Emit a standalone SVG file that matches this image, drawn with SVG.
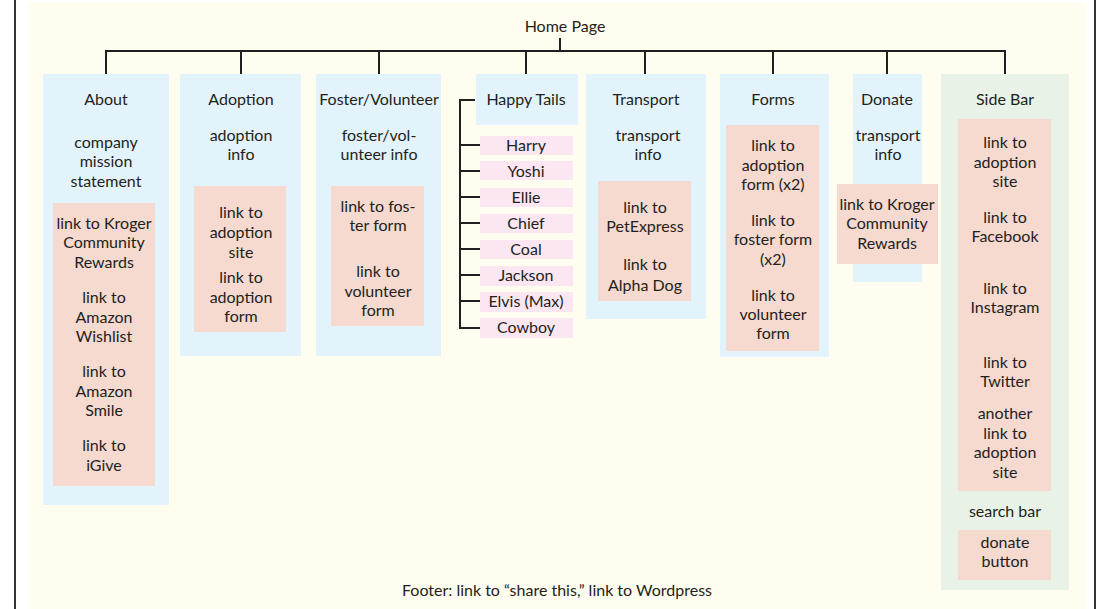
<svg xmlns="http://www.w3.org/2000/svg" width="1098" height="609" viewBox="0 0 1098 609">
<style>
text{font-family:Lato,"Open Sans","Liberation Sans",sans-serif;font-size:16px;fill:#231f20;text-anchor:middle}
.col{fill:#e3f3fb}
.side{fill:#e8f2e7}
.pk{fill:#f6d9cf}
.lp{fill:#fce6f2}
.ln{stroke:#231f20;stroke-width:2;fill:none}
</style>
<rect x="0" y="0" width="1098" height="609" fill="#ffffff"/>
<rect x="28" y="3" width="1058" height="606" fill="#fefdef"/>
<line x1="15" y1="0" x2="15" y2="609" stroke="#333" stroke-width="2"/>
<line x1="1095" y1="0" x2="1095" y2="609" stroke="#333" stroke-width="2"/>
<g id="connectors">
<path class="ln" d="M560 38V51M106 74V51H1005V74M241 51V74M379 51V74M526 51V74M645 51V74M773 51V74M887 51V74"/>
<path class="ln" d="M475 100H460V328H480M460 145H480M460 171H480M460 197H480M460 223H480M460 249H480M460 275H480M460 301H480"/>
</g>
<g id="home"><text x="565" y="32">Home Page</text></g>
<g id="about">
<rect class="col" x="43" y="74" width="126" height="431"/>
<rect class="pk" x="53" y="203" width="102" height="283"/>
<text x="106" y="105">About</text>
<text x="106" y="148">company</text><text x="106" y="167">mission</text><text x="106" y="187">statement</text>
<text x="104" y="229">link to Kroger</text><text x="104" y="248">Community</text><text x="104" y="268">Rewards</text>
<text x="104" y="303">link to</text><text x="104" y="323">Amazon</text><text x="104" y="342">Wishlist</text>
<text x="104" y="377">link to</text><text x="104" y="397">Amazon</text><text x="104" y="416">Smile</text>
<text x="104" y="451">link to</text><text x="104" y="471">iGive</text>
</g>
<g id="adoption">
<rect class="col" x="180" y="74" width="121" height="282"/>
<rect class="pk" x="194" y="186" width="92" height="146"/>
<text x="241" y="105">Adoption</text>
<text x="241" y="141">adoption</text><text x="241" y="160">info</text>
<text x="241" y="218">link to</text><text x="241" y="238">adoption</text><text x="241" y="258">site</text>
<text x="241" y="283">link to</text><text x="241" y="303">adoption</text><text x="241" y="322">form</text>
</g>
<g id="foster">
<rect class="col" x="316" y="74" width="125" height="282"/>
<rect class="pk" x="331" y="186" width="93" height="140"/>
<text x="379" y="105">Foster/Volunteer</text>
<text x="379" y="141">foster/vol-</text><text x="379" y="160">unteer info</text>
<text x="378" y="212">link to fos-</text><text x="378" y="231">ter form</text>
<text x="378" y="277">link to</text><text x="378" y="297">volunteer</text><text x="378" y="316">form</text>
</g>
<g id="happytails">
<rect class="col" x="476" y="74" width="102" height="51"/>
<text x="526" y="105">Happy Tails</text>
</g>
<g id="harry"><rect class="lp" x="480" y="136" width="93" height="19"/><text x="526" y="151">Harry</text></g>
<g id="yoshi"><rect class="lp" x="480" y="161" width="93" height="19"/><text x="526" y="177">Yoshi</text></g>
<g id="ellie"><rect class="lp" x="480" y="188" width="93" height="19"/><text x="526" y="203">Ellie</text></g>
<g id="chief"><rect class="lp" x="480" y="214" width="93" height="19"/><text x="526" y="229">Chief</text></g>
<g id="coal"><rect class="lp" x="480" y="240" width="93" height="19"/><text x="526" y="255">Coal</text></g>
<g id="jackson"><rect class="lp" x="480" y="266" width="93" height="20"/><text x="526" y="281">Jackson</text></g>
<g id="elvis"><rect class="lp" x="480" y="292" width="93" height="20"/><text x="526" y="307">Elvis (Max)</text></g>
<g id="cowboy"><rect class="lp" x="480" y="318" width="93" height="20"/><text x="526" y="333">Cowboy</text></g>
<g id="transport">
<rect class="col" x="586" y="74" width="120" height="245"/>
<rect class="pk" x="598" y="181" width="93" height="120"/>
<text x="646" y="105">Transport</text>
<text x="648" y="141">transport</text><text x="648" y="160">info</text>
<text x="645" y="213">link to</text><text x="645" y="232">PetExpress</text>
<text x="645" y="270">link to</text><text x="645" y="291">Alpha Dog</text>
</g>
<g id="forms">
<rect class="col" x="720" y="74" width="109" height="283"/>
<rect class="pk" x="726" y="125" width="93" height="226"/>
<text x="773" y="105">Forms</text>
<text x="773" y="151">link to</text><text x="773" y="171">adoption</text><text x="773" y="190">form (x2)</text>
<text x="773" y="226">link to</text><text x="773" y="245">foster form</text><text x="773" y="265">(x2)</text>
<text x="773" y="301">link to</text><text x="773" y="320">volunteer</text><text x="773" y="339">form</text>
</g>
<g id="donate">
<rect class="col" x="853" y="74" width="69" height="208"/>
<rect class="pk" x="837" y="184" width="101" height="80"/>
<text x="887" y="105">Donate</text>
<text x="888" y="141">transport</text><text x="888" y="160">info</text>
<text x="887" y="210">link to Kroger</text><text x="887" y="229">Community</text><text x="887" y="249">Rewards</text>
</g>
<g id="sidebar">
<rect class="side" x="941" y="74" width="128" height="516"/>
<rect class="pk" x="958" y="119" width="93" height="372"/>
<rect class="pk" x="958" y="530" width="93" height="50"/>
<text x="1005" y="105">Side Bar</text>
<text x="1005" y="148">link to</text><text x="1005" y="168">adoption</text><text x="1005" y="187">site</text>
<text x="1005" y="223">link to</text><text x="1005" y="242">Facebook</text>
<text x="1005" y="294">link to</text><text x="1005" y="313">Instagram</text>
<text x="1005" y="368">link to</text><text x="1005" y="387">Twitter</text>
<text x="1005" y="419">another</text><text x="1005" y="439">link to</text><text x="1005" y="458">adoption</text><text x="1005" y="478">site</text>
<text x="1005" y="517">search bar</text>
<text x="1005" y="548">donate</text><text x="1005" y="567">button</text>
</g>
<g id="footer"><text x="557" y="596">Footer: link to “share this,” link to Wordpress</text></g>
</svg>
